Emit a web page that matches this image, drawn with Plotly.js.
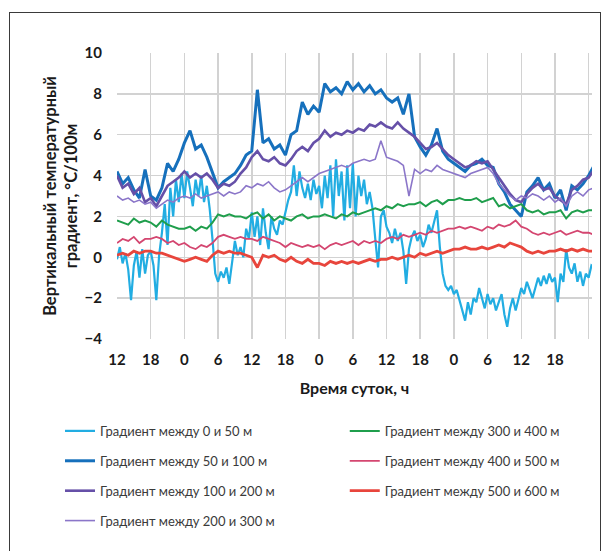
<!DOCTYPE html>
<html>
<head>
<meta charset="utf-8">
<script src="https://cdn.plot.ly/plotly-3.0.1.min.js"></script>
<style>
  html, body { margin: 0; padding: 0; background: #fff; }
  #wrap { position: relative; width: 602px; height: 551px; overflow: hidden; }
  #chart { width: 602px; height: 551px; }
  #frame { position: absolute; left: 9px; top: 12px; width: 590px; height: 560px;
           border: 1px solid #3a3a3a; pointer-events: none; }
</style>
</head>
<body>
<div id="wrap"><div id="chart"></div><div id="frame"></div></div>
<script>
// Time axis: hours since 12:00 of day 1
const tickHours = [0, 6, 12, 18, 24, 30, 36, 42, 48, 54, 60, 66, 72, 78, 84];
const tickLabels = ['12', '18', '0', '6', '12', '18', '0', '6', '12', '18', '0', '6', '12', '18', ''];

const seriesNames = [
  'Градиент между 0 и 50 м',
  'Градиент между 50 и 100 м',
  'Градиент между 100 и 200 м',
  'Градиент между 200 и 300 м',
  'Градиент между 300 и 400 м',
  'Градиент между 400 и 500 м',
  'Градиент между 500 и 600 м'
];

// 0–50 m, sampled every half hour
const g0_50 = [
  -0.1, 0.5, -0.3, 0.2, -0.6, -2.1, -0.4, 0.3, -1.0, 0.4, -0.8, 0.1, 0.3, -0.4, -2.1, 0.1,
  1.2, 2.6, 0.6, 3.4, 2.0, 3.8, 2.7, 4.1, 2.9, 4.2, 3.4, 2.5, 3.8, 3.0, 4.0, 2.7,
  3.5, 2.4, 0.9, -0.8, -1.2, -0.7, -1.0, -0.5, -1.3, -0.2, 0.8, 0.1, 0.5, 0.0, 1.4, 0.9,
  2.2, 1.0, 2.0, 0.6, 2.4, 1.2, 0.4, 2.0, 1.4, 1.1, 1.8, 1.6, 2.2, 2.8, 3.2, 4.5,
  3.0, 4.2, 3.4, 2.9, 3.6, 2.8, 3.8, 3.1, 3.5, 2.4, 4.0, 2.9, 4.5, 2.0, 4.8, 3.0,
  4.2, 1.8, 4.5, 2.4, 4.6, 2.0, 4.0, 3.0, 3.8, 2.6, 3.2, 2.4, 0.9, -0.5, 2.0, 2.3,
  1.5, 1.2, 0.7, 1.4, 0.8, 1.2, 0.3, -1.3, 0.4, 1.0, 1.3, 0.8, 1.1, 0.5, 0.9, 1.6,
  1.2, 1.8, 2.3, 0.5, -0.8, -1.4, -1.6, -1.4, -1.8, -1.6, -2.1, -2.5, -3.1, -2.2, -2.8, -2.0,
  -2.2, -1.5, -2.0, -2.5, -1.8, -2.3, -2.0, -2.6, -2.2, -1.8, -2.8, -3.4, -2.5, -2.0, -2.6, -2.0,
  -1.5, -1.8, -1.2, -1.6, -2.0, -1.5, -1.0, -1.4, -0.9, -1.3, -0.8, -1.2, -1.0, -2.2, -0.8, -1.2,
  0.4, -0.5, -0.8, -0.3, -1.2, -0.7, -1.4, -0.8, -1.0, -0.4, -0.5
];
// remaining series, sampled every hour
const g50_100 = [
  4.2, 3.6, 3.9, 3.3, 2.9, 4.3, 3.0, 2.8, 3.4, 4.6, 4.2, 4.8, 5.6, 6.2, 5.3, 5.5,
  4.9, 4.1, 3.4, 3.7, 3.9, 4.1, 4.5, 5.0, 5.2, 8.2, 5.6, 5.8, 5.3, 5.5, 5.0, 6.0,
  6.2, 7.6, 7.0, 7.4, 7.1, 8.5, 8.1, 8.3, 8.0, 8.6, 8.2, 8.5, 8.1, 8.4, 8.0, 8.2,
  7.8, 7.6, 7.8, 7.0, 8.0, 5.9, 5.4, 5.0, 5.5, 6.3, 5.2, 4.8, 4.6, 4.4, 4.2, 4.5,
  4.6, 4.8, 4.5, 4.4, 3.6, 3.2, 2.6, 2.3, 2.0, 3.2, 3.5, 3.9, 3.3, 3.6, 2.9, 3.3,
  2.3, 3.5, 3.3, 3.6, 4.0, 4.5
];
const g100_200 = [
  4.0, 3.4, 3.6, 3.1, 3.4, 2.7, 2.9, 2.5, 3.0, 3.5, 3.7, 3.9, 4.2, 3.9, 4.1, 3.9,
  4.1, 3.8, 3.4, 3.6, 3.5, 3.7, 4.1, 4.4, 4.9, 5.2, 4.8, 4.7, 4.9, 4.6, 4.5, 4.8,
  5.2, 5.4, 5.2, 5.6, 5.8, 6.2, 5.9, 6.1, 6.0, 6.2, 6.1, 6.3, 6.2, 6.5, 6.4, 6.6,
  6.4, 6.3, 6.6, 6.3, 6.1, 5.9, 5.6, 5.3, 5.4, 5.6, 5.3, 5.0, 4.8, 4.6, 4.4, 4.5,
  4.7, 4.6, 4.7, 4.3, 3.9, 3.5, 3.1, 2.8, 2.7, 3.1, 3.4, 3.6, 3.3, 3.4, 3.0, 2.8,
  2.6, 3.3, 3.5, 3.8, 3.9, 4.3
];
const g200_300 = [
  3.0, 2.8, 2.9, 2.7, 2.8, 2.6, 2.7, 2.4, 2.6, 2.8, 2.7, 2.9, 3.0, 2.9, 3.1, 2.9,
  3.0, 3.1, 3.2, 3.0, 3.2, 3.1, 3.2, 3.5, 3.4, 3.6, 3.5, 3.7, 3.4, 3.2, 3.3, 3.5,
  3.7, 3.9, 3.7, 3.9, 4.1, 4.2, 4.3, 4.4, 4.5, 4.4, 4.6, 4.7, 4.8, 4.7, 4.8, 5.7,
  4.9, 4.8, 4.7, 4.5, 3.0, 4.3, 4.1, 4.3, 4.2, 4.5, 4.3, 4.2, 4.1, 4.0, 3.9, 4.1,
  4.2, 4.3, 4.4, 4.1, 3.6, 3.3, 3.0, 2.8, 3.0, 2.9, 3.1, 3.0, 2.8, 3.0, 2.7, 2.9,
  2.5, 3.0, 3.2, 3.0, 3.3, 3.4
];
const g300_400 = [
  1.8, 1.7, 1.6, 1.9, 1.7, 1.8, 1.7, 1.5, 1.8, 1.6, 1.5, 1.4, 1.4, 1.5, 1.3, 1.5,
  1.4, 1.7, 2.1, 2.0, 2.1, 2.0, 2.0, 1.9, 2.1, 2.2, 1.9, 2.1, 1.8, 2.0, 1.9, 1.8,
  2.0, 2.1, 1.9, 2.0, 2.0, 2.1, 2.0, 1.9, 2.1, 2.0, 2.2, 2.1, 2.2, 2.3, 2.4, 2.3,
  2.5, 2.4, 2.6, 2.5, 2.6, 2.6, 2.7, 2.5, 2.7, 2.8, 2.6, 2.8, 2.8, 2.9, 2.8, 2.8,
  2.9, 2.7, 2.8, 2.9, 2.5, 2.6, 2.4, 2.5, 2.6, 2.3, 2.2, 2.3, 2.1, 2.2, 2.2, 2.3,
  1.9, 2.2, 2.3, 2.2, 2.3, 2.3
];
const g400_500 = [
  0.7, 0.9, 0.8, 1.0, 0.7, 0.9, 0.9, 1.0, 0.9, 0.7, 0.8, 0.6, 0.7, 0.5, 0.4, 0.6,
  0.5, 0.7, 1.0, 1.1, 1.0, 0.9, 1.0, 0.9, 0.9, 0.8, 1.0, 0.9, 0.8, 0.7, 0.5, 0.7,
  0.6, 0.5, 0.6, 0.5, 0.6, 0.4, 0.6, 0.7, 0.6, 0.7, 0.8, 0.6, 0.8, 0.7, 0.8, 0.7,
  0.9, 1.0, 0.9, 1.1, 1.0, 1.1, 1.2, 1.1, 1.3, 1.2, 1.3, 1.4, 1.4, 1.5, 1.4, 1.5,
  1.4, 1.3, 1.5, 1.4, 1.6, 1.5, 1.6, 1.8, 1.5, 1.4, 1.2, 1.1, 1.2, 1.1, 1.2, 1.3,
  1.1, 1.2, 1.3, 1.2, 1.2, 1.1
];
const g500_600 = [
  0.1, 0.2, 0.1, 0.3, 0.2, 0.3, 0.3, 0.2, 0.2, 0.1, 0.0, -0.1, -0.2, -0.1, 0.0, -0.1,
  -0.2, 0.1, 0.3, 0.2, 0.3, 0.2, 0.2, 0.1, 0.0, -0.5, 0.1, 0.0, 0.1, -0.1, -0.2, 0.0,
  -0.2, -0.3, -0.1, -0.3, -0.3, -0.4, -0.2, -0.3, -0.2, -0.3, -0.2, -0.3, -0.2, -0.1, -0.2, -0.1,
  -0.1, 0.0, -0.1, 0.0, 0.1, 0.0, 0.2, 0.1, 0.2, 0.3, 0.2, 0.3, 0.4, 0.4, 0.5, 0.4,
  0.4, 0.5, 0.4, 0.5, 0.6, 0.5, 0.7, 0.6, 0.5, 0.3, 0.2, 0.3, 0.2, 0.3, 0.3, 0.4,
  0.3, 0.4, 0.3, 0.4, 0.3, 0.3
];

const seriesValues = [g0_50, g50_100, g100_200, g200_300, g300_400, g400_500, g500_600];
const sampleStep = [0.5, 1, 1, 1, 1, 1, 1];           // hours between samples
const colors = ['#22ade2', '#1670bc', '#6650a8', '#8b76c9', '#1f9e4c', '#d44670', '#e8453c'];
const widths = [2.2, 3, 2.6, 1.6, 2, 1.8, 2.8];
const legendOf = ['legend', 'legend', 'legend', 'legend', 'legend2', 'legend2', 'legend2'];

const traces = seriesValues.map((vals, i) => ({
  type: 'scatter',
  mode: 'lines',
  name: seriesNames[i],
  x: vals.map((_, k) => k * sampleStep[i]),
  y: vals,
  line: { color: colors[i], width: widths[i] },
  legend: legendOf[i],
  legendgroup: 'g' + i,
  hoverinfo: 'skip'
}));

const fam = 'Lato, "Open Sans", sans-serif';
const tickFont = { family: fam, size: 15, color: '#1a1a1a', weight: 700 };
const titleFont = { family: fam, size: 16.5, color: '#1a1a1a', weight: 700 };
const legendFont = { family: fam, size: 13, color: '#3a3a3a' };

const layout = {
  width: 602, height: 551,
  paper_bgcolor: '#ffffff', plot_bgcolor: '#ffffff',
  margin: { l: 117, r: 10, t: 53, b: 212, autoexpand: false },
  showlegend: true,
  xaxis: {
    range: [0, 84.6],
    tickvals: tickHours, ticktext: tickLabels,
    showgrid: true, gridcolor: '#d2d2d2', gridwidth: 1.5,
    zeroline: false, showline: false, ticks: '',
    ticklabelstandoff: 10,
    tickfont: tickFont,
    title: { text: 'Время суток, ч', font: { ...titleFont, size: 16 }, standoff: 15 },
    fixedrange: true
  },
  yaxis: {
    range: [-4, 10], dtick: 2, tick0: -4,
    showgrid: true, gridcolor: '#d2d2d2', gridwidth: 1.5,
    zeroline: false, showline: false, ticks: '',
    ticklabelstandoff: 14,
    tickfont: tickFont,
    title: { text: 'Вертикальный температурный<br>градиент, °C/100м', font: titleFont, standoff: 2 },
    fixedrange: true
  },
  legend: {
    x: -0.12, y: -0.269, xanchor: 'left', yanchor: 'top',
    orientation: 'v', traceorder: 'grouped', tracegroupgap: 10,
    font: legendFont, bgcolor: 'rgba(0,0,0,0)', borderwidth: 0, itemwidth: 30
  },
  legend2: {
    x: 0.4795, y: -0.269, xanchor: 'left', yanchor: 'top',
    orientation: 'v', traceorder: 'grouped', tracegroupgap: 10,
    font: legendFont, bgcolor: 'rgba(0,0,0,0)', borderwidth: 0, itemwidth: 30
  }
};

Plotly.newPlot('chart', traces, layout, { staticPlot: true, displayModeBar: false });
</script>
</body>
</html>
